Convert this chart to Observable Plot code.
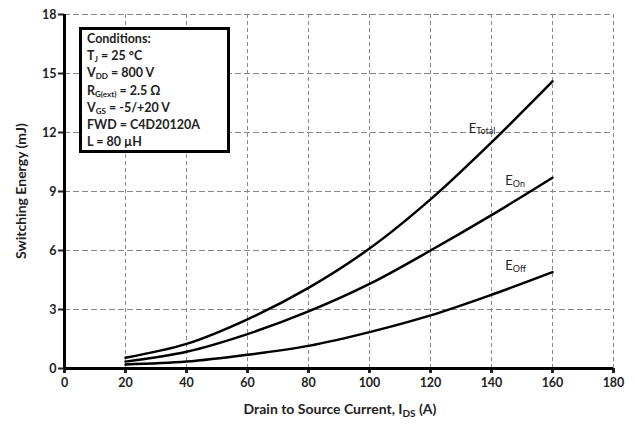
<!DOCTYPE html>
<html>
<head>
<meta charset="utf-8">
<script src="https://cdn.jsdelivr.net/npm/d3@7"></script>
<script src="https://cdn.jsdelivr.net/npm/@observablehq/plot@0.6"></script>
<style>
  html, body { margin: 0; padding: 0; background: #fff; }
  #wrap { position: relative; width: 635px; height: 426px; font-family: Lato, "Open Sans", sans-serif; }
  #cond {
    position: absolute; left: 79px; top: 27px; width: 140px; height: 120px;
    border: 3px solid #000; background: #fff; box-sizing: content-box;
    font-size: 12.5px; font-weight: bold; color: #222; line-height: 17.2px;
    padding: 0 0 0 5px; margin: 0;
  }
  #cond div { white-space: nowrap; }
  #cond sub { font-size: 8px; vertical-align: -2px; line-height: 0; }
</style>
</head>
<body>
<div id="wrap"></div>
<script>
// ---- data ----
const current = [20, 40, 60, 80, 100, 120, 140, 160];            // I_DS (A)
const eTotal  = [0.55, 1.25, 2.5, 4.1, 6.1, 8.6, 11.5, 14.6];     // mJ
const eOn     = [0.35, 0.85, 1.75, 2.9, 4.3, 6.0, 7.8, 9.7];      // mJ
const eOff    = [0.2, 0.35, 0.7, 1.15, 1.85, 2.7, 3.75, 4.9];     // mJ
const xTicks  = [0, 20, 40, 60, 80, 100, 120, 140, 160, 180];
const yTicks  = [0, 3, 6, 9, 12, 15, 18];
const seriesNames = ["Total", "On", "Off"];
const labelPos = [[135, 12.2], [147, 9.55], [147, 5.2]];          // label anchor (A, mJ)
const conditions = [
  ["Conditions:", ""],
  ["T", "J", " = 25 °C"],
  ["V", "DD", " = 800 V"],
  ["R", "G(ext)", " = 2.5 Ω"],
  ["V", "GS", " = -5/+20 V"],
  ["FWD = C4D20120A", ""],
  ["L = 80 µH", ""]
];

const seriesValues = [eTotal, eOn, eOff];
const rows = seriesValues.flatMap((vals, s) =>
  current.map((c, i) => ({series: seriesNames[s], x: c, y: vals[i]})));
const labels = seriesNames.map((n, i) => ({name: n, x: labelPos[i][0], y: labelPos[i][1]}));

const font = "Lato, 'Open Sans', sans-serif";

const chart = Plot.plot({
  width: 635,
  height: 426,
  marginLeft: 64,
  marginRight: 22,
  marginTop: 14,
  marginBottom: 58,
  style: {fontFamily: font, fontSize: "12px", fontWeight: "bold", color: "#222", background: "white"},
  x: {domain: [0, 180], label: null},
  y: {domain: [0, 18], label: null},
  marks: [
    Plot.gridY(yTicks.filter(d => d > 0), {stroke: "#888", strokeOpacity: 1, strokeWidth: 1.2, strokeDasharray: "6,3"}),
    Plot.gridX(xTicks.filter(d => d > 0), {stroke: "#888", strokeOpacity: 1, strokeWidth: 1, strokeDasharray: "4,3"}),
    Plot.axisX(xTicks, {tickSize: 5, strokeWidth: 3, tickPadding: 5, fontSize: 12.5, fontWeight: "bold", label: null}),
    Plot.axisY(yTicks, {tickSize: 6, strokeWidth: 2, tickPadding: 2, fontSize: 12.5, fontWeight: "bold", label: null}),
    Plot.ruleY([0], {stroke: "black", strokeWidth: 3}),
    Plot.ruleX([0], {stroke: "black", strokeWidth: 3}),
    Plot.line(rows, {x: "x", y: "y", z: "series", stroke: "black", strokeWidth: 2.5, curve: "catmull-rom"}),
    Plot.text(labels, {x: "x", y: "y", text: () => "E", fontSize: 13, fontWeight: "normal", fill: "#222", textAnchor: "end"}),
    Plot.text(labels, {x: "x", y: "y", text: "name", fontSize: 9, fontWeight: "normal", fill: "#222", textAnchor: "start", dy: 3})
  ]
});

const svg = d3.select(chart);
// axis titles
svg.append("text")
  .attr("x", 340).attr("y", 414)
  .attr("text-anchor", "middle")
  .attr("font-family", font).attr("font-size", 14).attr("font-weight", "bold").attr("fill", "#222")
  .call(t => {
    t.append("tspan").text("Drain to Source Current, I");
    t.append("tspan").attr("font-size", 10).attr("dy", 3).text("DS");
    t.append("tspan").attr("dy", -3).text(" (A)");
  });
svg.append("text")
  .attr("transform", "translate(26,191) rotate(-90)")
  .attr("text-anchor", "middle")
  .attr("font-family", font).attr("font-size", 14).attr("font-weight", "bold").attr("fill", "#222")
  .text("Switching Energy (mJ)");

const wrap = document.getElementById("wrap");
wrap.appendChild(chart);

// conditions box
const box = document.createElement("div");
box.id = "cond";
conditions.forEach((c, i) => {
  const d = document.createElement("div");
  if (c.length === 3) {
    d.append(c[0]);
    const s = document.createElement("sub");
    s.textContent = c[1];
    d.append(s);
    d.append(c[2]);
  } else {
    d.textContent = c[0];
  }
  box.appendChild(d);
});
wrap.appendChild(box);
</script>
</body>
</html>
